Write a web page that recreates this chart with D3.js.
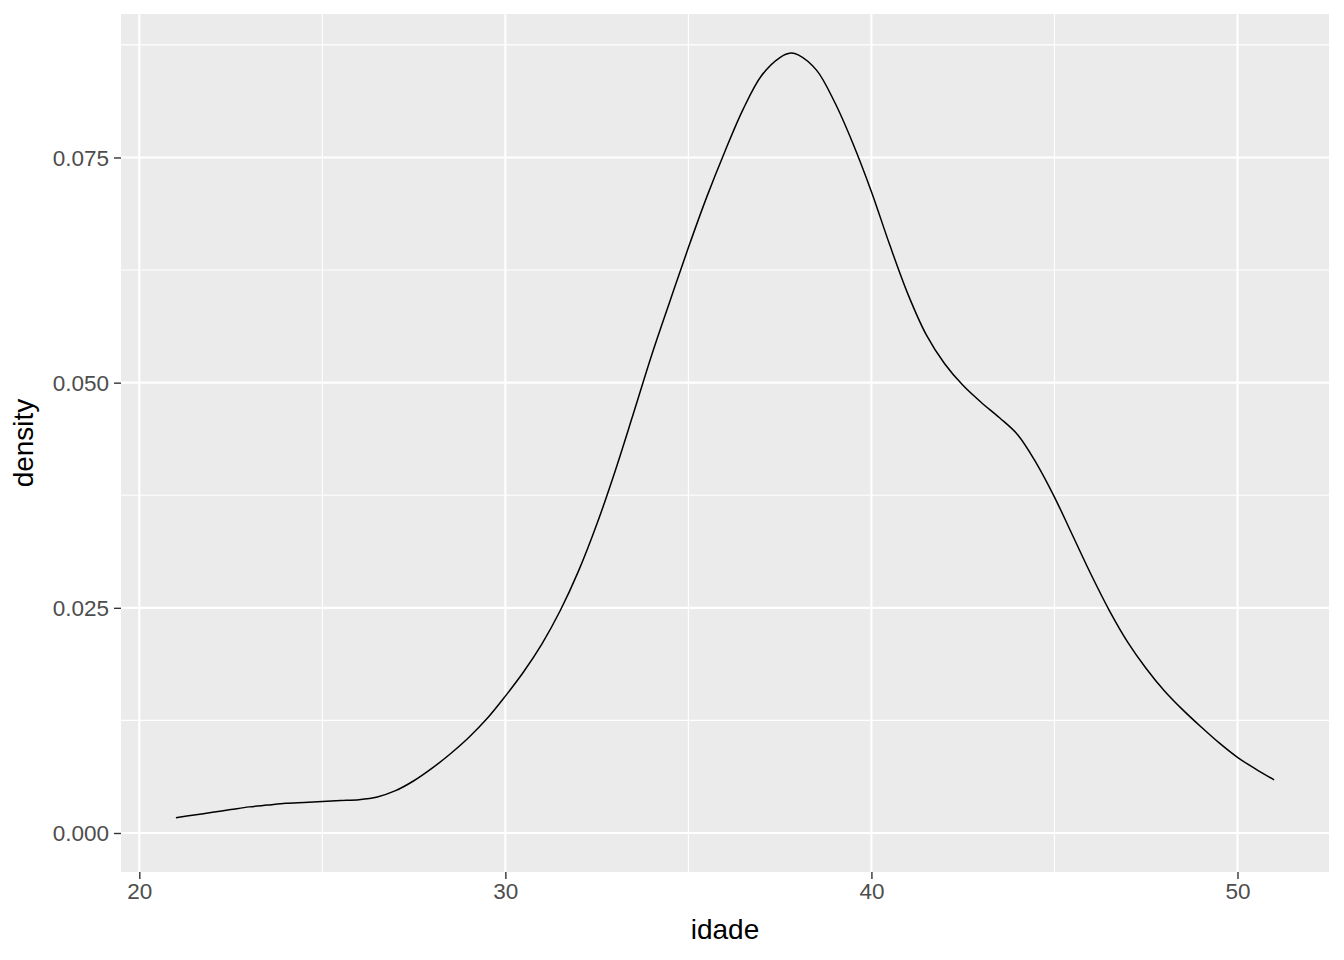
<!DOCTYPE html>
<html>
<head>
<meta charset="utf-8">
<script src="https://cdn.jsdelivr.net/npm/d3@7"></script>
<style>
  html, body { margin: 0; padding: 0; background: #ffffff; }
  svg { display: block; }
  text { font-family: "Liberation Sans", Arial, sans-serif; }
</style>
</head>
<body>
<svg id="chart" width="1344" height="960"></svg>
<script>
// Data
const idade = [21, 21.5, 22, 22.5, 23, 23.5, 24, 24.5, 25, 25.5, 26, 26.5, 27, 27.5, 28, 28.5, 29, 29.5,
  30, 30.5, 31, 31.5, 32, 32.5, 33, 33.5, 34, 34.5, 35, 35.5, 36, 36.5, 37, 37.5, 37.8, 38, 38.5, 39, 39.5,
  40, 40.5, 41, 41.5, 42, 42.5, 43, 43.5, 44, 44.5, 45, 45.5, 46, 46.5, 47, 47.5, 48, 48.5, 49, 49.5, 50, 50.5, 51];
const density = [0.0017, 0.0020, 0.0023, 0.0026, 0.0029, 0.0031, 0.0033, 0.0034, 0.0035, 0.0036, 0.0037, 0.0040,
  0.0047, 0.0058, 0.0072, 0.0088, 0.0106, 0.0127, 0.0152, 0.0179, 0.0210, 0.0247, 0.0291, 0.0343, 0.0402, 0.0466,
  0.0531, 0.0591, 0.0650, 0.0706, 0.0757, 0.0804, 0.0841, 0.0861, 0.0866, 0.0864, 0.0847, 0.0811, 0.0765,
  0.0712, 0.0653, 0.0598, 0.0553, 0.0521, 0.0497, 0.0478, 0.0461, 0.0442, 0.0411, 0.0373, 0.0330, 0.0287, 0.0247,
  0.0212, 0.0183, 0.0158, 0.0137, 0.0118, 0.0100, 0.0084, 0.0071, 0.0059];
const xTicks = [20, 30, 40, 50];
const xMinor = [25, 35, 45];
const yTicks = [0, 0.025, 0.05, 0.075];
const yMinor = [0.0125, 0.0375, 0.0625, 0.0875];
const xTitle = "idade";
const yTitle = "density";

const panel = { left: 121, right: 1329, top: 14, bottom: 872 };
const xMin = d3.min(idade), xMax = d3.max(idade);
const xPad = (xMax - xMin) * 0.05;
const yMax = d3.max(density);
const yPad = yMax * 0.05;

const x = d3.scaleLinear().domain([xMin - xPad, xMax + xPad]).range([panel.left, panel.right]);
const y = d3.scaleLinear().domain([0 - yPad, yMax + yPad]).range([panel.bottom, panel.top]);

const svg = d3.select("#chart");

svg.append("rect")
  .attr("x", panel.left).attr("y", panel.top)
  .attr("width", panel.right - panel.left).attr("height", panel.bottom - panel.top)
  .attr("fill", "#EBEBEB");

const grid = svg.append("g");
grid.selectAll("line.xminor").data(xMinor).join("line")
  .attr("x1", d => x(d)).attr("x2", d => x(d))
  .attr("y1", panel.top).attr("y2", panel.bottom)
  .attr("stroke", "#ffffff").attr("stroke-width", 1.1);
grid.selectAll("line.yminor").data(yMinor).join("line")
  .attr("y1", d => y(d)).attr("y2", d => y(d))
  .attr("x1", panel.left).attr("x2", panel.right)
  .attr("stroke", "#ffffff").attr("stroke-width", 1.1);
grid.selectAll("line.xmajor").data(xTicks).join("line")
  .attr("x1", d => x(d)).attr("x2", d => x(d))
  .attr("y1", panel.top).attr("y2", panel.bottom)
  .attr("stroke", "#ffffff").attr("stroke-width", 2.1);
grid.selectAll("line.ymajor").data(yTicks).join("line")
  .attr("y1", d => y(d)).attr("y2", d => y(d))
  .attr("x1", panel.left).attr("x2", panel.right)
  .attr("stroke", "#ffffff").attr("stroke-width", 2.1);

const pts = idade.map((v, i) => [v, density[i]]);
const line = d3.line().x(d => x(d[0])).y(d => y(d[1])).curve(d3.curveCatmullRom.alpha(0.5));
svg.append("path").datum(pts)
  .attr("d", line)
  .attr("fill", "none")
  .attr("stroke", "#000000")
  .attr("stroke-width", 1.5);

// Axes
const xAxis = d3.axisBottom(x).tickValues(xTicks).tickSize(7).tickPadding(4).tickFormat(d3.format("d"));
const gx = svg.append("g").attr("transform", `translate(0,${panel.bottom})`).call(xAxis);
gx.select(".domain").remove();
gx.selectAll(".tick line").attr("stroke", "#333333").attr("stroke-width", 1.4);
gx.selectAll(".tick text").attr("fill", "#4D4D4D").attr("font-size", 22.5).attr("dy", "0.71em");

const yAxis = d3.axisLeft(y).tickValues(yTicks).tickSize(7).tickPadding(5).tickFormat(d3.format(".3f"));
const gy = svg.append("g").attr("transform", `translate(${panel.left},0)`).call(yAxis);
gy.select(".domain").remove();
gy.selectAll(".tick line").attr("stroke", "#333333").attr("stroke-width", 1.4);
gy.selectAll(".tick text").attr("fill", "#4D4D4D").attr("font-size", 22.5).attr("dy", "0.35em");

svg.append("text")
  .attr("x", (panel.left + panel.right) / 2).attr("y", 939)
  .attr("text-anchor", "middle").attr("font-size", 28).attr("fill", "#000000")
  .text(xTitle);

svg.append("text")
  .attr("transform", `translate(33,${(panel.top + panel.bottom) / 2}) rotate(-90)`)
  .attr("text-anchor", "middle").attr("font-size", 28).attr("fill", "#000000")
  .text(yTitle);
</script>
</body>
</html>
